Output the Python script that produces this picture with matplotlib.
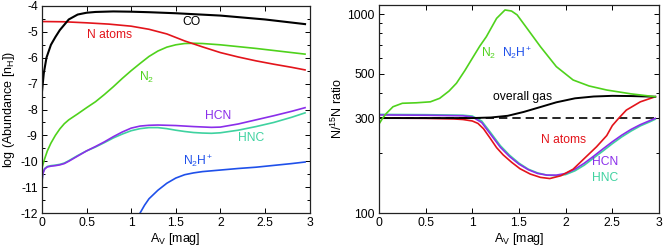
import matplotlib
matplotlib.use("Agg")
import matplotlib.pyplot as plt
from matplotlib.ticker import FixedLocator, NullFormatter, MultipleLocator, FuncFormatter

plt.rcParams['font.family'] = ['Liberation Sans', 'DejaVu Sans']
plt.rcParams['mathtext.default'] = 'regular'
plt.rcParams['axes.unicode_minus'] = False
plt.rcParams['font.size'] = 8

# ---------------- Left panel: abundances ----------------
co_x = [0.0, 0.02, 0.05, 0.1, 0.15, 0.2, 0.3, 0.4, 0.5, 0.6, 0.8, 1.0, 1.2, 1.5, 2.0, 2.5, 2.95]
co_y = [-7.3, -6.6, -6.0, -5.5, -5.2, -4.93, -4.52, -4.33, -4.26, -4.23, -4.21, -4.22, -4.24, -4.28, -4.37, -4.52, -4.7]

nat_x = [0.0, 0.25, 0.5, 0.75, 1.0, 1.2, 1.4, 1.6, 1.8, 2.0, 2.2, 2.4, 2.6, 2.8, 2.95]
nat_y = [-4.6, -4.61, -4.65, -4.7, -4.78, -4.9, -5.08, -5.35, -5.58, -5.8, -5.97, -6.12, -6.25, -6.37, -6.47]

n2_x = [0.0, 0.03, 0.06, 0.1, 0.15, 0.2, 0.25, 0.3, 0.4, 0.5, 0.6, 0.7, 0.8, 0.9, 1.0, 1.1, 1.2, 1.3, 1.4,
        1.5, 1.6, 1.7, 1.8, 2.0, 2.2, 2.4, 2.6, 2.8, 2.95]
n2_y = [-10.25, -9.9, -9.6, -9.3, -9.0, -8.75, -8.55, -8.4, -8.17, -7.93, -7.7, -7.42, -7.12, -6.8, -6.5,
        -6.22, -5.95, -5.74, -5.59, -5.5, -5.45, -5.44, -5.45, -5.5, -5.57, -5.64, -5.72, -5.8, -5.86]

hnc_x = [0.0, 0.01, 0.03, 0.06, 0.1, 0.15, 0.2, 0.25, 0.3, 0.4, 0.5, 0.6, 0.7, 0.8, 0.9, 1.0, 1.1, 1.2, 1.3,
         1.4, 1.5, 1.6, 1.7, 1.8, 1.9, 2.0, 2.2, 2.4, 2.6, 2.8, 2.95]
hnc_y = [-10.75, -10.45, -10.28, -10.2, -10.17, -10.15, -10.12, -10.07, -9.98, -9.78, -9.6, -9.45, -9.28,
         -9.1, -8.95, -8.82, -8.74, -8.7, -8.7, -8.74, -8.8, -8.85, -8.89, -8.91, -8.92, -8.9, -8.8, -8.66,
         -8.5, -8.3, -8.13]

hcn_x = [0.0, 0.01, 0.03, 0.06, 0.1, 0.15, 0.2, 0.25, 0.3, 0.4, 0.5, 0.6, 0.7, 0.8, 0.9, 1.0, 1.1, 1.2, 1.3,
         1.4, 1.5, 1.7, 1.9, 2.0, 2.2, 2.4, 2.6, 2.8, 2.95]
hcn_y = [-10.78, -10.48, -10.3, -10.22, -10.19, -10.17, -10.14, -10.09, -10.0, -9.8, -9.6, -9.43, -9.25,
         -9.05, -8.87, -8.72, -8.64, -8.61, -8.6, -8.61, -8.62, -8.66, -8.69, -8.68, -8.56, -8.4, -8.24,
         -8.07, -7.93]

n2hp_x = [1.08, 1.1, 1.15, 1.2, 1.3, 1.4, 1.5, 1.6, 1.7, 1.8, 2.0, 2.2, 2.4, 2.6, 2.8, 2.95]
n2hp_y = [-12.2, -12.0, -11.7, -11.45, -11.12, -10.85, -10.65, -10.52, -10.45, -10.4, -10.34, -10.28,
          -10.23, -10.16, -10.09, -10.03]

# ---------------- Right panel: N/15N ratio ----------------
r_n2_x = [0.0, 0.04, 0.08, 0.15, 0.25, 0.4, 0.55, 0.65, 0.75, 0.83, 0.92, 1.01, 1.08, 1.15, 1.26, 1.35,
          1.42, 1.48, 1.6, 1.73, 1.9, 2.08, 2.25, 2.44, 2.7, 2.96]
r_n2_y = [280, 300, 317, 342, 356, 358, 362, 377, 410, 449, 520, 610, 690, 769, 951, 1048, 1035, 990, 830,
          685, 544, 466, 435, 415, 397, 384]

r_gas_x = [0.0, 0.5, 1.0, 1.2, 1.38, 1.55, 1.74, 1.9, 2.1, 2.3, 2.5, 2.7, 2.96]
r_gas_y = [300, 300, 300, 302, 308, 322, 342, 360, 377, 385, 388, 387, 384]

r_nat_x = [0.0, 0.5, 0.8, 0.9, 1.0, 1.06, 1.12, 1.19, 1.26, 1.33, 1.42, 1.51, 1.62, 1.73, 1.83, 1.95,
           2.08, 2.2, 2.33, 2.44, 2.5, 2.57, 2.65, 2.8, 2.96]
r_nat_y = [300, 299, 297, 295, 290, 282, 265, 238, 213, 196, 180, 167, 157, 151, 149, 154, 166, 188, 215,
           245, 275, 300, 329, 362, 384]

r_hcn_x = [0.0, 0.5, 0.9, 1.0, 1.1, 1.2, 1.3, 1.4, 1.5, 1.6, 1.7, 1.8, 1.9, 2.0, 2.1, 2.2, 2.3, 2.4, 2.5,
           2.6, 2.7, 2.8, 2.9, 2.96]
r_hcn_y = [311, 310, 308, 304, 285, 247, 214, 192, 176, 165, 158, 155, 155, 158, 166, 178, 193, 210, 228,
           246, 263, 278, 291, 299]
r_hnc_y = [313, 312, 310, 307, 290, 252, 218, 195, 178, 166, 159, 155, 154, 156, 163, 174, 189, 205, 223,
           241, 258, 274, 287, 296]

C_BLACK = '#000000'
C_RED = '#e3141b'
C_GREEN = '#4fd21c'
C_PURPLE = '#8a2eea'
C_TEAL = '#3fd2a0'
C_BLUE = '#1f50ea'

N2HP = 'N$_2$H$^{\\!+}$'

fig = plt.figure(figsize=(6.65, 2.52), dpi=100)
ax1 = fig.add_axes([42/665, 1-213/252, (309.5-42)/665, (213-6)/252])
ax2 = fig.add_axes([379/665, 1-213/252, (659-379)/665, (213-5)/252])

lw = 1.2
ax1.plot(n2hp_x, n2hp_y, color=C_BLUE, lw=lw)
ax1.plot(hnc_x, hnc_y, color=C_TEAL, lw=lw)
ax1.plot(hcn_x, hcn_y, color=C_PURPLE, lw=lw)
ax1.plot(n2_x, n2_y, color=C_GREEN, lw=lw)
ax1.plot(nat_x, nat_y, color=C_RED, lw=lw)
ax1.plot(co_x, co_y, color=C_BLACK, lw=1.5)

fmt_x = FuncFormatter(lambda v, p: '%g' % v)

ax1.set_xlim(0, 3)
ax1.set_ylim(-12, -4)
ax1.xaxis.set_major_locator(MultipleLocator(0.5))
ax1.xaxis.set_major_formatter(fmt_x)
ax1.yaxis.set_major_locator(MultipleLocator(1))
ax1.yaxis.set_minor_locator(MultipleLocator(0.5))
ax1.set_xlabel('A$_V$ [mag]', fontsize=9, labelpad=1)
ax1.set_ylabel('log (Abundance [n$_H$])', fontsize=9, labelpad=2)

fs = 8.7
ax1.text(1.68, -4.6, 'CO', color=C_BLACK, fontsize=fs, ha='center', va='center')
ax1.text(0.76, -5.14, 'N atoms', color=C_RED, fontsize=fs, ha='center', va='center')
ax1.text(1.17, -6.77, 'N$_2$', color=C_GREEN, fontsize=fs, ha='center', va='center')
ax1.text(1.97, -8.26, 'HCN', color=C_PURPLE, fontsize=fs, ha='center', va='center')
ax1.text(2.35, -9.12, 'HNC', color=C_TEAL, fontsize=fs, ha='center', va='center')
ax1.text(1.75, -10.0, N2HP, color=C_BLUE, fontsize=fs, ha='center', va='center')

ax2.axhline(300, color=C_BLACK, lw=1.2, ls=(0, (5, 3)))
ax2.plot(r_hcn_x, r_hnc_y, color=C_TEAL, lw=lw)
ax2.plot(r_hcn_x, r_hcn_y, color=C_PURPLE, lw=lw)
ax2.plot(r_nat_x, r_nat_y, color=C_RED, lw=lw)
ax2.plot(r_gas_x, r_gas_y, color=C_BLACK, lw=1.4)
ax2.plot(r_n2_x, r_n2_y, color=C_GREEN, lw=lw)

ax2.set_yscale('log')
ax2.set_xlim(0, 3)
ax2.set_ylim(100, 1110)
ax2.xaxis.set_major_locator(MultipleLocator(0.5))
ax2.xaxis.set_major_formatter(fmt_x)
ax2.yaxis.set_major_locator(FixedLocator([100, 300, 500, 1000]))
ax2.yaxis.set_major_formatter(FuncFormatter(lambda v, p: '%d' % round(v)))
ax2.yaxis.set_minor_locator(FixedLocator([200, 400, 600, 700, 800, 900]))
ax2.yaxis.set_minor_formatter(NullFormatter())
ax2.set_xlabel('A$_V$ [mag]', fontsize=9, labelpad=1)
ax2.set_ylabel('N/$^{15}$N ratio', fontsize=9, labelpad=2)

ax2.text(1.17, 634, 'N$_2$', color=C_GREEN, fontsize=fs, ha='center', va='center')
ax2.text(1.48, 634, N2HP, color=C_BLUE, fontsize=fs, ha='center', va='center')
ax2.text(1.54, 384, 'overall gas', color=C_BLACK, fontsize=fs, ha='center', va='center')
ax2.text(1.98, 233, 'N atoms', color=C_RED, fontsize=fs, ha='center', va='center')
ax2.text(2.42, 180, 'HCN', color=C_PURPLE, fontsize=fs, ha='center', va='center')
ax2.text(2.42, 150, 'HNC', color=C_TEAL, fontsize=fs, ha='center', va='center')

for ax in (ax1, ax2):
    ax.tick_params(which='both', direction='in', top=True, right=True, labelsize=8.7, pad=3)
    ax.tick_params(which='major', length=3.5, width=0.7)
    ax.tick_params(which='minor', length=2, width=0.7)
    for s in ax.spines.values():
        s.set_linewidth(0.9)
        s.set_color('#222222')

fig.savefig('out.png', dpi=100)
